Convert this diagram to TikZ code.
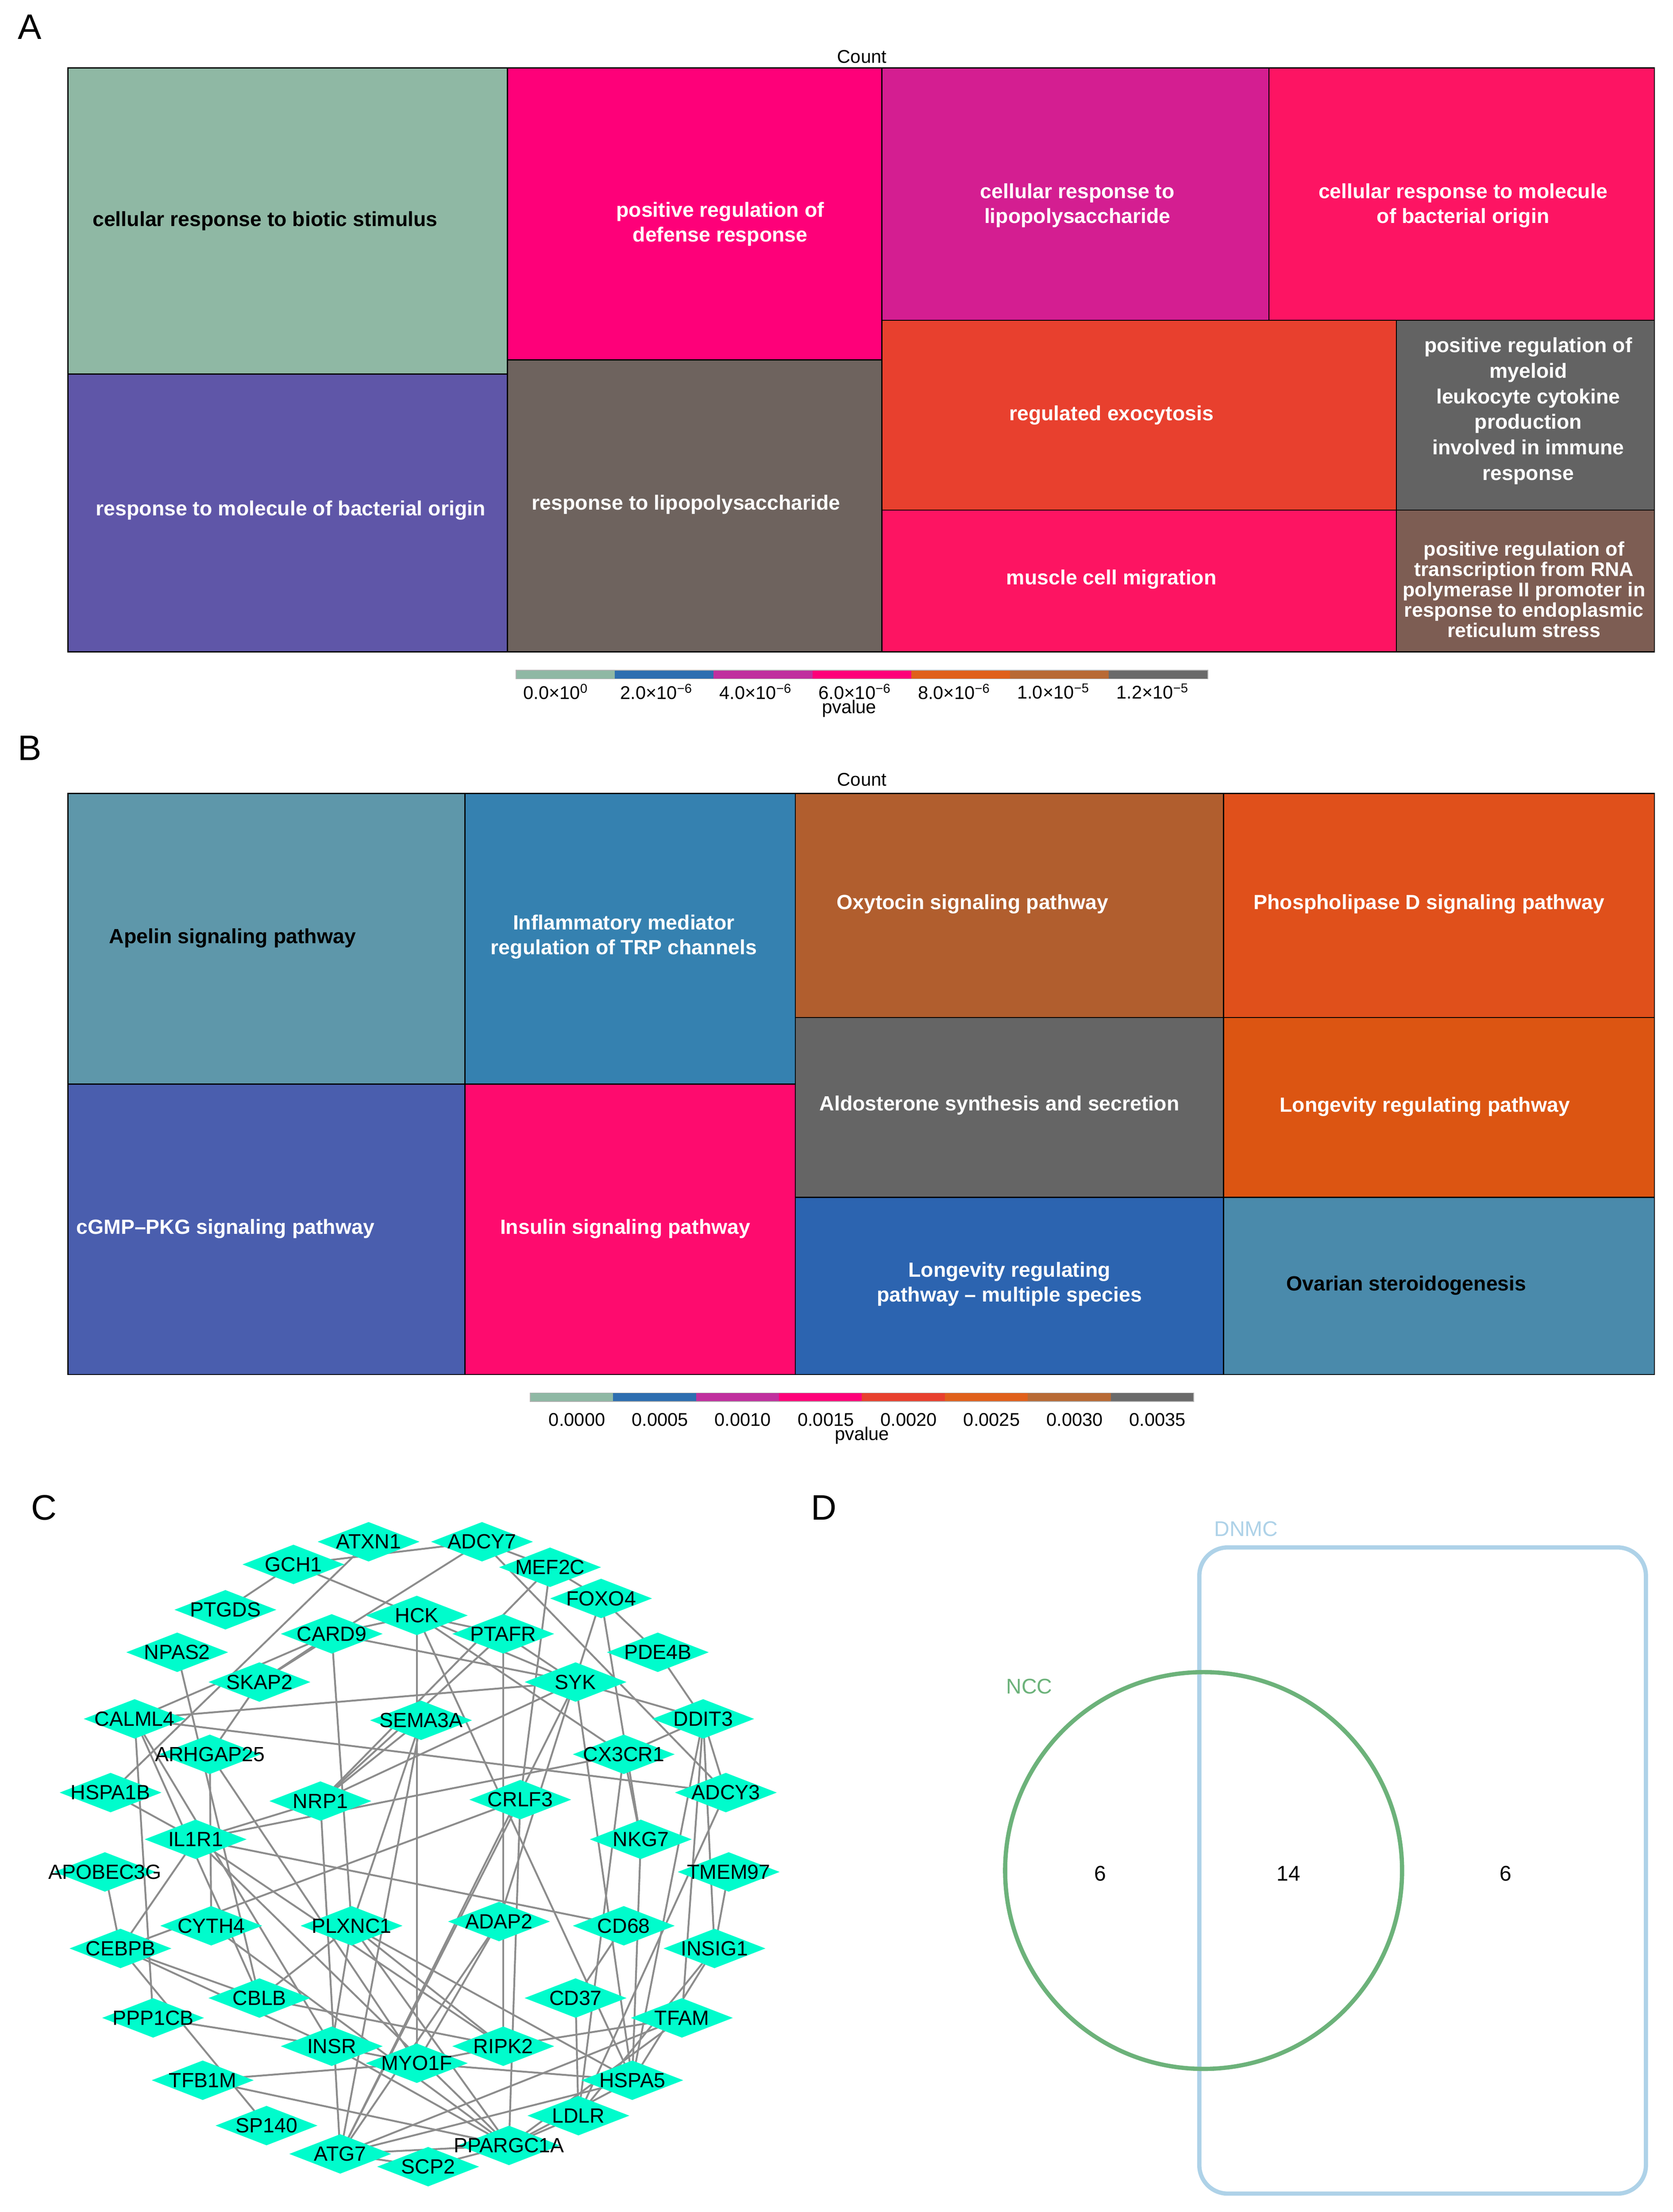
\documentclass[tikz,border=0pt]{standalone}
\usepackage{fontspec}
\setmainfont{Liberation Sans}
\usetikzlibrary{shapes.geometric}
\pgfdeclarelayer{bg}\pgfsetlayers{bg,main}
\definecolor{cA1}{HTML}{8FB8A4}\definecolor{cA2}{HTML}{5F56A8}\definecolor{cA3}{HTML}{FE0079}
\definecolor{cA4}{HTML}{6E635E}\definecolor{cA5}{HTML}{D41E91}\definecolor{cA6}{HTML}{FD1463}
\definecolor{cA7}{HTML}{E8402E}\definecolor{cA8}{HTML}{FD1462}\definecolor{cA9}{HTML}{636363}
\definecolor{cA10}{HTML}{7D5D53}
\definecolor{cB1}{HTML}{5E97AA}\definecolor{cB2}{HTML}{4A5EAE}\definecolor{cB3}{HTML}{3581B0}
\definecolor{cB4}{HTML}{FE0B6E}\definecolor{cB5}{HTML}{B15E2E}\definecolor{cB6}{HTML}{E0501B}
\definecolor{cB7}{HTML}{656565}\definecolor{cB8}{HTML}{DC5512}\definecolor{cB9}{HTML}{2C64B0}
\definecolor{cB10}{HTML}{4A8AAB}
\definecolor{L1}{HTML}{8FB8A4}\definecolor{L2}{HTML}{2D6EB0}\definecolor{L3}{HTML}{C0309E}
\definecolor{L4}{HTML}{FE0079}\definecolor{L5}{HTML}{E8402E}\definecolor{L6}{HTML}{E0601B}
\definecolor{L7}{HTML}{B86A35}\definecolor{L8}{HTML}{6A6A6A}
\definecolor{aqua}{RGB}{0,252,204}
\definecolor{ncc}{HTML}{6CB27A}\definecolor{dnmc}{HTML}{AED2E8}
\begin{document}
\begin{tikzpicture}[x=1pt,y=-1pt,
 box/.style={draw=black,line width=0.8pt},
 tw/.style={text=white,font=\fontsize{14.5}{17.5}\selectfont\bfseries,align=center,inner sep=0},
 tb/.style={tw,text=black},
 small/.style={font=\fontsize{13}{14}\selectfont,inner sep=0},
 plab/.style={font=\fontsize{25}{28}\selectfont,inner sep=0},
 dia/.style={diamond,fill=aqua,minimum width=72pt,minimum height=28pt,inner sep=0,aspect=2.57},
 gl/.style={font=\fontsize{14.5}{16}\selectfont,inner sep=0},
 ed/.style={draw=gray!90,line width=1.3pt}]
\useasboundingbox (0,0) rectangle (1180,1561);
% panel labels
\node[plab] (pA) at (21,19) {A};
\node[plab] (pB) at (21,528) {B};
\node[plab] (pC) at (31,1064) {C};
\node[plab] (pD) at (581,1064) {D};
% ---- Panel A
\node[small] (cntA) at (608,40) {Count};
\fill[cA1] (48,48) rectangle (358,264); \fill[cA2] (48,264) rectangle (358,460);
\fill[cA3] (358,48) rectangle (622,254); \fill[cA4] (358,254) rectangle (622,460);
\fill[cA5] (622,48) rectangle (895,226); \fill[cA6] (895,48) rectangle (1167,226);
\fill[cA7] (622,226) rectangle (985,360); \fill[cA8] (622,360) rectangle (985,460);
\fill[cA9] (985,226) rectangle (1167,360); \fill[cA10] (985,360) rectangle (1167,460);
\draw[box] (48,48) rectangle (1167,460);
\draw[box] (358,48)--(358,460) (622,48)--(622,460) (895,48)--(895,226) (985,226)--(985,460)
 (48,264)--(358,264) (358,254)--(622,254) (622,226)--(1167,226) (622,360)--(1167,360);
\node[tb] (a1) at (187,156) {cellular response to biotic stimulus};
\node[tw] (a2) at (205,360) {response to molecule of bacterial origin};
\node[tw] (a3) at (508,158) {positive regulation of\\defense response};
\node[tw] (a4) at (484,356) {response to lipopolysaccharide};
\node[tw] (a5) at (760,145) {cellular response to\\lipopolysaccharide};
\node[tw] (a6) at (1032,145) {cellular response to molecule\\of bacterial origin};
\node[tw] (a7) at (784,293) {regulated exocytosis};
\node[tw] (a8) at (784,409) {muscle cell migration};
\node[tw,font=\fontsize{14.5}{18}\selectfont\bfseries] (a9) at (1078,290) {positive regulation of\\myeloid\\leukocyte cytokine\\production\\involved in immune\\response};
\node[tw,font=\fontsize{14}{14.3}\selectfont\bfseries] (a10) at (1075,416) {positive regulation of\\transcription from RNA\\polymerase II promoter in\\response to endoplasmic\\reticulum stress};
\foreach \i/\c in {0/L1,1/L2,2/L3,3/L4,4/L6,5/L7,6/L8}{
 \fill[\c] (364+\i*69.7,473) rectangle (364+\i*69.7+69.7,479);}
\draw[gray!60] (364,473) rectangle (852,479);
\node[small] (la0) at (392,488) {0.0×10\textsuperscript{0}};
\node[small] (la1) at (463,488) {2.0×10\textsuperscript{−6}};
\node[small] (la2) at (533,488) {4.0×10\textsuperscript{−6}};
\node[small] (la3) at (603,488) {6.0×10\textsuperscript{−6}};
\node[small] (la4) at (673,488) {8.0×10\textsuperscript{−6}};
\node[small] (la5) at (743,488) {1.0×10\textsuperscript{−5}};
\node[small] (la6) at (813,488) {1.2×10\textsuperscript{−5}};
\node[small] (pvA) at (599,500) {pvalue};
% ---- Panel B
\node[small] (cntB) at (608,550) {Count};
\fill[cB1] (48,560) rectangle (328,765); \fill[cB2] (48,765) rectangle (328,970);
\fill[cB3] (328,560) rectangle (561,765); \fill[cB4] (328,765) rectangle (561,970);
\fill[cB5] (561,560) rectangle (863,718); \fill[cB6] (863,560) rectangle (1167,718);
\fill[cB7] (561,718) rectangle (863,845); \fill[cB8] (863,718) rectangle (1167,845);
\fill[cB9] (561,845) rectangle (863,970); \fill[cB10] (863,845) rectangle (1167,970);
\draw[box] (48,560) rectangle (1167,970);
\draw[box] (328,560)--(328,970) (561,560)--(561,970) (863,560)--(863,970)
 (48,765)--(561,765) (561,718)--(1167,718) (561,845)--(1167,845);
\node[tb] (b1) at (164,662) {Apelin signaling pathway};
\node[tw] (b2) at (159,867) {cGMP–PKG signaling pathway};
\node[tw] (b3) at (440,661) {Inflammatory mediator\\regulation of TRP channels};
\node[tw] (b4) at (441,867) {Insulin signaling pathway};
\node[tw] (b5) at (686,638) {Oxytocin signaling pathway};
\node[tw] (b6) at (1008,638) {Phospholipase D signaling pathway};
\node[tw] (b7) at (705,780) {Aldosterone synthesis and secretion};
\node[tw] (b8) at (1005,781) {Longevity regulating pathway};
\node[tw] (b9) at (712,906) {Longevity regulating\\pathway – multiple species};
\node[tb] (b10) at (992,907) {Ovarian steroidogenesis};
\foreach \i/\c in {0/L1,1/L2,2/L3,3/L4,4/L5,5/L6,6/L7,7/L8}{
 \fill[\c] (374+\i*58.5,983) rectangle (374+\i*58.5+58.5,989);}
\draw[gray!60] (374,983) rectangle (842,989);
\foreach \i/\t in {0/0.0000,1/0.0005,2/0.0010,3/0.0015,4/0.0020,5/0.0025,6/0.0030,7/0.0035}{
 \node[small] (lb\i) at (407+\i*58.5,1002) {\t};}
\node[small] (pvB) at (608,1013) {pvalue};
% ---- Panel C
\foreach \n/\x/\y in {ATXN1/260/1088,ADCY7/340/1088,GCH1/207/1104,MEF2C/388/1106,FOXO4/424/1128,
 PTGDS/159/1136,HCK/294/1140,CARD9/234/1153,PTAFR/355/1153,NPAS2/125/1166,PDE4B/464/1166,
 SKAP2/183/1187,SYK/406/1187,CALML4/95/1213,SEMA3A/297/1214,DDIT3/496/1213,ARHGAP25/148/1238,
 CX3CR1/440/1238,HSPA1B/78/1265,NRP1/226/1271,CRLF3/367/1270,ADCY3/512/1265,IL1R1/138/1298,
 NKG7/452/1298,APOBEC3G/74/1321,TMEM97/514/1321,CYTH4/149/1359,PLXNC1/248/1359,ADAP2/352/1356,
 CD68/440/1359,CEBPB/85/1375,INSIG1/504/1375,CBLB/183/1410,CD37/406/1410,PPP1CB/108/1424,
 TFAM/481/1424,INSR/234/1444,RIPK2/355/1444,MYO1F/294/1456,TFB1M/143/1468,HSPA5/446/1468,
 SP140/188/1500,LDLR/408/1493,ATG7/240/1520,PPARGC1A/359/1514,SCP2/302/1529}{
 \node[dia] (\n) at (\x,\y) {};
 \node[gl] (t\n) at (\x,\y) {\n};}
\begin{pgfonlayer}{bg}
\foreach \a/\b in {GCH1/ADCY7,GCH1/PTGDS,GCH1/HCK,ATXN1/HSPA1B,ADCY7/SKAP2,ADCY7/ADCY3,
 MEF2C/FOXO4,MEF2C/CRLF3,MEF2C/NRP1,ADCY7/MEF2C,FOXO4/PDE4B,FOXO4/NKG7,FOXO4/ADAP2,
 HCK/SYK,HCK/PTAFR,HCK/CX3CR1,HCK/MYO1F,HCK/CARD9,CARD9/SYK,CARD9/SKAP2,CARD9/PLXNC1,
 CARD9/CALML4,PTAFR/SYK,PTAFR/NRP1,PTAFR/RIPK2,SYK/CALML4,SYK/DDIT3,SYK/NRP1,SYK/HSPA5,
 SYK/ATG7,PDE4B/DDIT3,DDIT3/CX3CR1,DDIT3/ADCY3,DDIT3/TFAM,DDIT3/INSIG1,DDIT3/HSPA5,
 CALML4/ADCY3,CALML4/PPP1CB,CALML4/INSR,CALML4/CBLB,NPAS2/CBLB,SEMA3A/NRP1,SEMA3A/PLXNC1,
 SEMA3A/ATG7,CX3CR1/IL1R1,CX3CR1/NKG7,NRP1/IL1R1,NRP1/ATG7,CRLF3/CEBPB,CRLF3/PPARGC1A,
 IL1R1/CD68,IL1R1/HSPA1B,IL1R1/PPARGC1A,IL1R1/RIPK2,ARHGAP25/CYTH4,ARHGAP25/MYO1F,
 ARHGAP25/SKAP2,CEBPB/CBLB,CEBPB/INSR,CEBPB/APOBEC3G,CEBPB/SP140,CEBPB/IL1R1,CYTH4/PPARGC1A,
 PPP1CB/INSR,TFB1M/MYO1F,TFB1M/PPARGC1A,CBLB/RIPK2,CBLB/PLXNC1,RIPK2/TFAM,RIPK2/MYO1F,
 INSR/MYO1F,INSR/PLXNC1,MYO1F/HSPA5,HSPA5/PPARGC1A,LDLR/PPARGC1A,ATG7/SCP2,ATG7/PPARGC1A,
 ATG7/TFAM,ATG7/HSPA5,ATG7/ADAP2,CD68/CD37,INSIG1/LDLR,INSIG1/TMEM97,INSIG1/HSPA5,
 TFAM/PPARGC1A,PLXNC1/RIPK2,PLXNC1/HSPA5,PLXNC1/PPARGC1A,CD37/LDLR,SCP2/PPARGC1A,
 NKG7/HSPA5,ADAP2/MYO1F,INSR/PPARGC1A,CX3CR1/LDLR,CRLF3/ATG7,HCK/HSPA5,ADCY3/LDLR}{
 \draw[ed] (\a.center)--(\b.center);}
\end{pgfonlayer}
% ---- Panel D
\draw[dnmc,line width=3pt,rounded corners=20pt] (846,1092) rectangle (1161,1548);
\draw[ncc,line width=3pt] (849,1320) circle (140);
\node[font=\fontsize{15}{17}\selectfont,text=dnmc,inner sep=0] (dn) at (879,1079) {DNMC};
\node[font=\fontsize{15}{17}\selectfont,text=ncc,inner sep=0] (nc) at (726,1190) {NCC};
\node[font=\fontsize{15}{17}\selectfont,inner sep=0] (v1) at (776,1322) {6};
\node[font=\fontsize{15}{17}\selectfont,inner sep=0] (v2) at (909,1322) {14};
\node[font=\fontsize{15}{17}\selectfont,inner sep=0] (v3) at (1062,1322) {6};
\end{tikzpicture}
\end{document}
